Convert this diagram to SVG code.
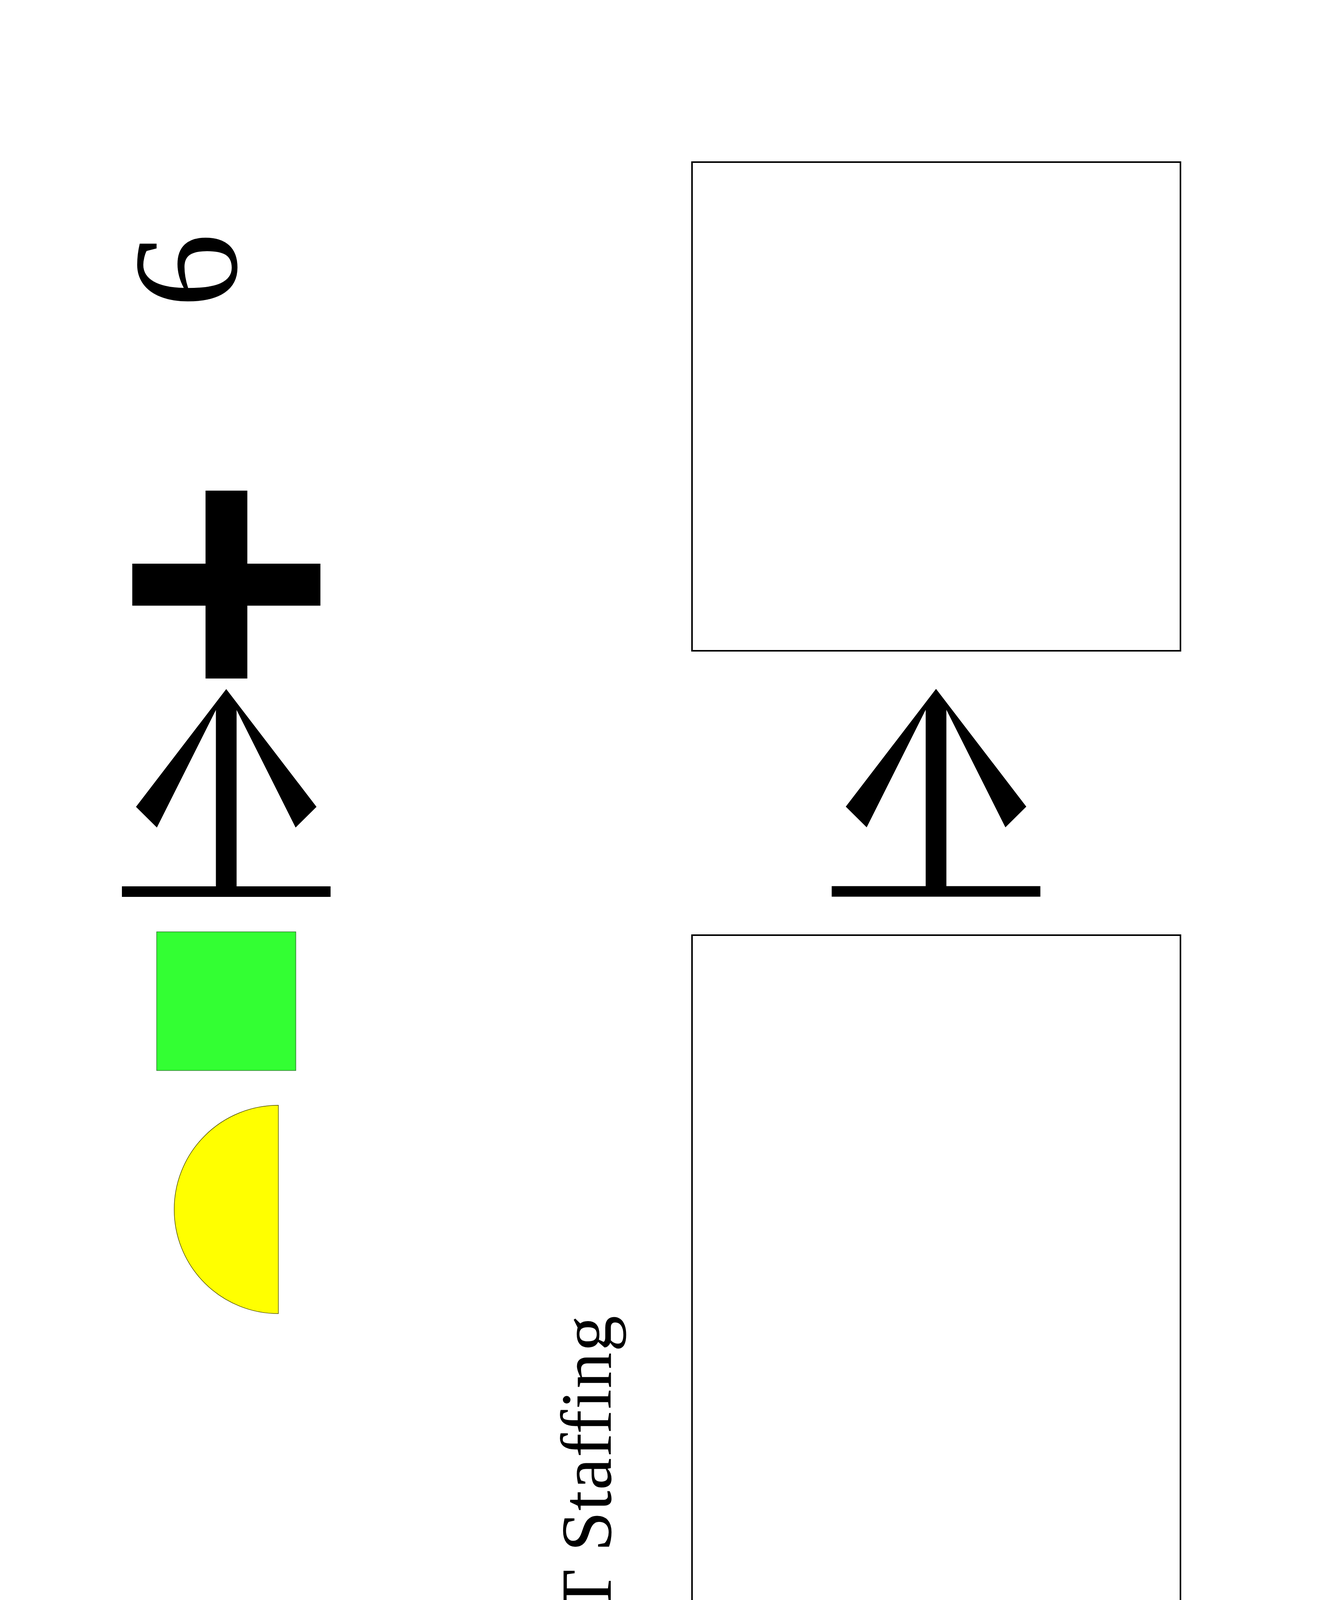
<svg xmlns="http://www.w3.org/2000/svg" xmlns:xlink="http://www.w3.org/1999/xlink" width="3437" height="4686" viewBox="0 0 3437 4686">
  <style>
    .box { fill: #ffffff; stroke: #000000; stroke-width: 4; }
    .glyph { fill: #000000; }
    .lbl { font-family: "Liberation Serif", "Times New Roman", serif; fill: #000000; }
    .green { fill: #33ff33; stroke: #2a7a2a; stroke-width: 1.5; }
    .yellow { fill: #ffff00; stroke: #555500; stroke-width: 1.5; }
  </style>
  <defs>
    <path id="upArrow" d="M0,0 L231,301.5 L177.5,354.5 L26.5,53.5 L26.5,505 L267,505 L267,532 L-267,532 L-267,505 L-26.5,505 L-26.5,53.5 L-177.5,354.5 L-231,301.5 Z"/>
  </defs>
  <rect width="3437" height="4686" fill="#ffffff"/>

  <g id="label-6">
    <text class="lbl" font-size="382" transform="translate(604,788) rotate(-90)">6</text>
  </g>

  <g id="plus">
    <rect class="glyph" x="526" y="1256" width="107" height="481"/>
    <rect class="glyph" x="338.5" y="1443" width="481.5" height="107.5"/>
  </g>

  <g id="green-square">
    <rect class="green" x="401" y="2385.5" width="356" height="355"/>
  </g>

  <g id="yellow-half">
    <path class="yellow" d="M712.4,2829.6 A266.6,266.6 0 0 0 712.4,3362.8 Z"/>
  </g>

  <g id="label-jit">
    <text class="lbl" font-size="185" textLength="900" lengthAdjust="spacing" transform="translate(1563,4268) rotate(-90)">JIT Staffing</text>
  </g>

  <g id="box-top">
    <rect class="box" x="1771" y="415" width="1250" height="1251"/>
  </g>

  <g id="box-bottom">
    <rect class="box" x="1771" y="2394" width="1250" height="1875"/>
  </g>

  <g id="connectors">
    <use xlink:href="#upArrow" class="glyph" x="579" y="1764"/>
    <use xlink:href="#upArrow" class="glyph" x="2395.5" y="1763.5"/>
  </g>
</svg>
